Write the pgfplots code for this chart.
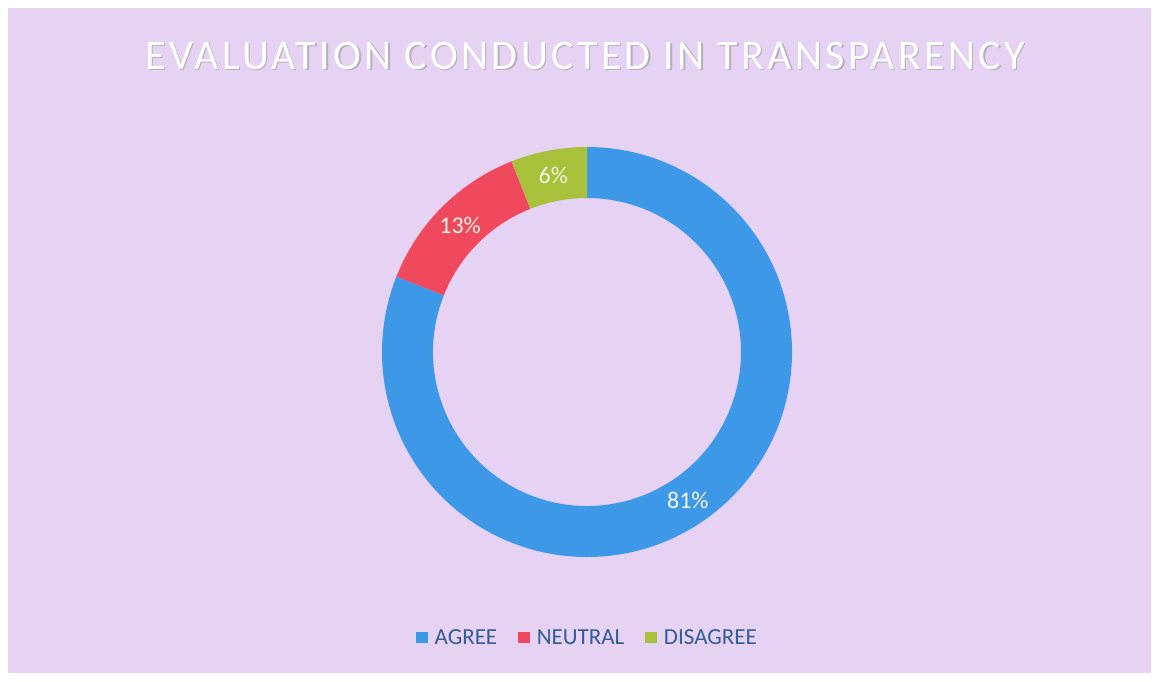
\documentclass[border=0pt]{standalone}
\usepackage{pgfplots}
\pgfplotsset{compat=1.18}
\usepackage{pgfplotstable}
\usepackage{fontspec}
\setmainfont{Carlito}
\usetikzlibrary{calc}
\definecolor{bg}{RGB}{230,210,242}
\definecolor{cagree}{RGB}{62,152,232}
\definecolor{cneutral}{RGB}{240,72,92}
\definecolor{cdisagree}{RGB}{168,192,58}
\definecolor{legtext}{RGB}{52,92,150}
\definecolor{lbl}{RGB}{245,245,230}

\pgfplotstableread{
label value
AGREE 81
NEUTRAL 13
DISAGREE 6
}\shares

\begin{document}
\begin{tikzpicture}
\pgfplotstablegetelem{0}{value}\of\shares \let\vA\pgfplotsretval
\pgfplotstablegetelem{1}{value}\of\shares \let\vB\pgfplotsretval
\pgfplotstablegetelem{2}{value}\of\shares \let\vC\pgfplotsretval
\def\cx{587}\def\cy{329}
\def\ro{102.5}\def\ri{77}\def\rm{89.75}
\pgfmathsetmacro{\aA}{90}
\pgfmathsetmacro{\bA}{90-3.6*\vA}
\pgfmathsetmacro{\bB}{\bA-3.6*\vB}
\pgfmathsetmacro{\bC}{\bB-3.6*\vC}
\pgfmathsetmacro{\mA}{(\aA+\bA)/2}
\pgfmathsetmacro{\mB}{(\bA+\bB)/2}
\pgfmathsetmacro{\mC}{(\bB+\bC)/2}
\newcommand\slice[3]{\fill[#3] ($(axis cs:\cx,\cy)+(#1:\ro pt)$) arc[start angle=#1, end angle=#2, radius=\ro pt] -- ($(axis cs:\cx,\cy)+(#2:\ri pt)$) arc[start angle=#2, end angle=#1, radius=\ri pt] -- cycle;}
\begin{axis}[
  scale only axis, width=579.5pt, height=340.5pt,
  xmin=0, xmax=1159, ymin=0, ymax=681,
  hide axis, clip=false,
  legend style={at={(0.509,0.063)}, anchor=center, draw=none, fill=none, legend columns=-1,
    font=\fontsize{11.5}{13}\selectfont, text=legtext,
    nodes={inner xsep=3.5pt, text height=7.5pt, text depth=1.5pt},
    /tikz/every even column/.append style={column sep=7pt}},
  legend image code/.code={\fill[#1,draw=none] (0pt,-2.6pt) rectangle (5.8pt,3.2pt);},
]
\fill[white] (axis cs:0,0) rectangle (axis cs:1159,681);
\fill[bg] (axis cs:8,8) rectangle (axis cs:1151,673);
\slice{\aA}{\bA}{cagree}
\slice{\bA}{\bB}{cneutral}
\slice{\bB}{\bC}{cdisagree}
\node[text=lbl, font=\fontsize{12}{14}\selectfont] at ($(axis cs:\cx,\cy)+(\mA:\rm pt)$) {\vA\%};
\node[text=lbl, font=\fontsize{12}{14}\selectfont] at ($(axis cs:\cx,\cy)+(\mB:\rm pt)$) {\vB\%};
\node[text=lbl, font=\fontsize{12}{14}\selectfont] at ($(axis cs:\cx,\cy)+(\mC:\rm pt)$) {\vC\%};
\node[text=black!45, opacity=0.5, font=\fontsize{21}{24}\selectfont\addfontfeature{LetterSpace=8}] at (axis cs:586.5,623.5) {EVALUATION CONDUCTED IN TRANSPARENCY};
\node[text=white, font=\fontsize{21}{24}\selectfont\addfontfeature{LetterSpace=8}] at (axis cs:585,625) {EVALUATION CONDUCTED IN TRANSPARENCY};
\addlegendimage{fill=cagree}\addlegendentry{AGREE}
\addlegendimage{fill=cneutral}\addlegendentry{NEUTRAL}
\addlegendimage{fill=cdisagree}\addlegendentry{DISAGREE}
\end{axis}
\end{tikzpicture}
\end{document}
